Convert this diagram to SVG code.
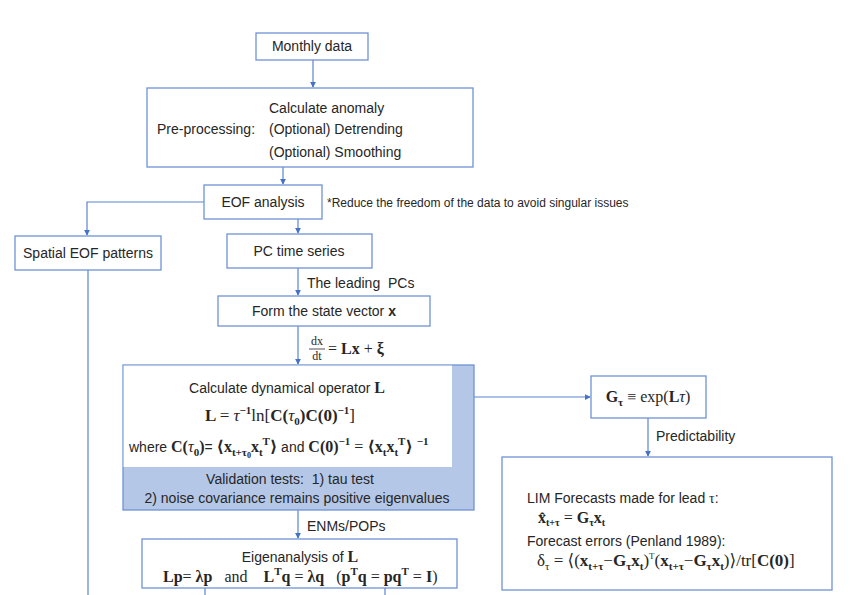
<svg xmlns="http://www.w3.org/2000/svg" width="857" height="595" viewBox="0 0 857 595">
<defs>
<marker id="ah" viewBox="0 0 8 8" refX="7" refY="4" markerWidth="6" markerHeight="6" orient="auto" markerUnits="userSpaceOnUse">
<path d="M0,0 L8,4 L0,8 z" fill="#4472c4"/>
</marker>
</defs>
<style>
.box{fill:#fff;stroke:#6f93d6;stroke-width:1.3}
.c{fill:none;stroke:#5b84cf;stroke-width:1.2}
.t{font-family:"Liberation Sans","DejaVu Sans",sans-serif;font-size:14px;fill:#262626}
.s{font-size:12px}
.m{font-family:"Liberation Serif","DejaVu Serif",serif;font-weight:bold;fill:#262626}
.mi{font-family:"Liberation Serif","DejaVu Serif",serif;font-style:italic;fill:#262626}
.mr{font-family:"Liberation Serif","DejaVu Serif",serif;fill:#262626}
</style>
<rect width="857" height="595" fill="#fff"/>
<g id="connectors">
<path class="c" d="M313,60 V87" marker-end="url(#ah)"/>
<path class="c" d="M283,167 V184" marker-end="url(#ah)"/>
<path class="c" d="M204,202 H87 V235" marker-end="url(#ah)"/>
<path class="c" d="M298,219 V233" marker-end="url(#ah)"/>
<path class="c" d="M298,268 V295" marker-end="url(#ah)"/>
<path class="c" d="M298,326 V364" marker-end="url(#ah)"/>
<path class="c" d="M88,270 V595"/>
<path class="c" d="M298,510 V538" marker-end="url(#ah)"/>
<path class="c" d="M474,397 H590" marker-end="url(#ah)"/>
<path class="c" d="M648,418 V456" marker-end="url(#ah)"/>
<path class="c" d="M205,588 V595 M385,588 V595"/>
</g>
<g id="monthly">
<rect class="box" x="256" y="33" width="112" height="27"/>
<text class="t" x="312" y="51" text-anchor="middle">Monthly data</text>
</g>
<g id="preprocessing">
<rect class="box" x="147" y="88" width="326" height="79"/>
<text class="t" x="157" y="134">Pre-processing:</text>
<text class="t" x="269" y="113">Calculate anomaly</text>
<text class="t" x="269" y="134">(Optional) Detrending</text>
<text class="t" x="269" y="157">(Optional) Smoothing</text>
</g>
<g id="eof">
<rect class="box" x="204" y="185" width="118" height="34"/>
<text class="t" x="263" y="207" text-anchor="middle">EOF analysis</text>
<text class="t s" x="327" y="207">*Reduce the freedom of the data to avoid singular issues</text>
</g>
<g id="spatial">
<rect class="box" x="15" y="236" width="146" height="34"/>
<text class="t" x="88" y="258" text-anchor="middle">Spatial EOF patterns</text>
</g>
<g id="pc">
<rect class="box" x="227" y="234" width="145" height="34"/>
<text class="t" x="299" y="256" text-anchor="middle">PC time series</text>
<text class="t" x="307" y="288">The leading&#160; PCs</text>
</g>
<g id="state">
<rect class="box" x="218" y="296" width="212" height="30"/>
<text class="t" x="324" y="316" text-anchor="middle">Form the state vector <tspan font-weight="bold">x</tspan></text>
<text class="mr" font-size="12" x="317" y="345" text-anchor="middle">dx</text>
<line x1="309" y1="349" x2="325" y2="349" stroke="#262626" stroke-width="0.8"/>
<text class="mr" font-size="12" x="317" y="360" text-anchor="middle">dt</text>
<text class="m" font-size="16" x="328" y="354"><tspan font-weight="normal">=</tspan> Lx <tspan font-weight="normal">+</tspan> ξ</text>
</g>
<g id="operator">
<rect x="123" y="365" width="351" height="145" fill="#b4c7e7" stroke="#6f93d6" stroke-width="1.3"/>
<rect x="123.6" y="365.6" width="328.4" height="101.4" fill="#fff"/>
<text class="t" x="287" y="393" text-anchor="middle">Calculate dynamical operator <tspan class="m" font-size="16">L</tspan></text>
<text class="m" font-size="17" x="280" y="421" text-anchor="middle">L <tspan font-weight="normal">=</tspan> <tspan class="mi" font-weight="normal">τ</tspan><tspan font-size="11" dy="-7">−1</tspan><tspan font-weight="normal" dy="7">ln[</tspan>C(<tspan class="mi" font-weight="normal">τ</tspan><tspan font-size="11" dy="4">0</tspan><tspan dy="-4">)C(0)</tspan><tspan font-size="11" dy="-7">−1</tspan><tspan font-weight="normal" dy="7">]</tspan></text>
<text class="t" x="129" y="452">where <tspan class="m" font-size="16">C(<tspan class="mi" font-weight="normal">τ</tspan><tspan font-size="11" dy="4">0</tspan><tspan dy="-4">)</tspan></tspan>= <tspan class="m" font-size="16">⟨x<tspan font-size="11" dy="4">t+τ</tspan><tspan font-size="8" dy="2">0</tspan><tspan dy="-6">x</tspan><tspan font-size="11" dy="4">t</tspan><tspan font-size="11" dy="-11">T</tspan><tspan dy="7">⟩</tspan></tspan> and <tspan class="m" font-size="16">C(0)<tspan font-size="11" dy="-7">−1</tspan><tspan font-weight="normal" dy="7"> = </tspan>⟨x<tspan font-size="11" dy="4">t</tspan><tspan dy="-4">x</tspan><tspan font-size="11" dy="4">t</tspan><tspan font-size="11" dy="-11">T</tspan><tspan dy="7">⟩ </tspan><tspan font-size="11" dy="-7">−1</tspan></tspan></text>
<text class="t" x="290" y="484" text-anchor="middle">Validation tests:&#160; 1) tau test</text>
<text class="t" x="297" y="503" text-anchor="middle">2) noise covariance remains positive eigenvalues</text>
<text class="t" x="307" y="531">ENMs/POPs</text>
</g>
<g id="eigen">
<rect class="box" x="142" y="539" width="315" height="49"/>
<text class="t" x="300" y="562" text-anchor="middle">Eigenanalysis of <tspan class="m" font-size="16">L</tspan></text>
<text class="m" font-size="16" x="163" y="582">Lp<tspan font-weight="normal">=</tspan> λp&#160;&#160; <tspan font-weight="normal">and</tspan>&#160;&#160;&#160; L<tspan font-size="11" dy="-7">T</tspan><tspan dy="7">q </tspan><tspan font-weight="normal">=</tspan> λq&#160;&#160; <tspan font-weight="normal">(</tspan>p<tspan font-size="11" dy="-7">T</tspan><tspan dy="7">q </tspan><tspan font-weight="normal">=</tspan> pq<tspan font-size="11" dy="-7">T</tspan><tspan dy="7"> </tspan><tspan font-weight="normal">=</tspan> I<tspan font-weight="normal">)</tspan></text>
</g>
<g id="gtau">
<rect class="box" x="591" y="376" width="115" height="42"/>
<text class="m" font-size="16" x="648" y="402" text-anchor="middle">G<tspan font-size="11" dy="4">τ</tspan><tspan font-weight="normal" dy="-4"> ≡ exp(</tspan>L<tspan class="mi" font-weight="normal">τ</tspan><tspan font-weight="normal">)</tspan></text>
<text class="t" x="656" y="441">Predictability</text>
</g>
<g id="forecast">
<rect class="box" x="502" y="457" width="330" height="133"/>
<text class="t" x="527" y="503">LIM Forecasts made for lead <tspan class="mr">τ</tspan>:</text>
<text class="m" font-size="16" x="538" y="523">x̂<tspan font-size="10" dy="3">t+τ</tspan><tspan font-weight="normal" dy="-3"> = </tspan>G<tspan font-size="10" dy="3">τ</tspan><tspan dy="-3">x</tspan><tspan font-size="10" dy="3">t</tspan></text>
<text class="t" x="527" y="546">Forecast errors (Penland 1989):</text>
<text class="m" font-size="17" x="537" y="566"><tspan font-weight="normal">δ</tspan><tspan font-size="11" font-weight="normal" dy="4">τ</tspan><tspan font-weight="normal" dy="-4"> = ⟨(</tspan>x<tspan font-size="11" dy="4">t+τ</tspan><tspan font-weight="normal" dy="-4">−</tspan>G<tspan font-size="11" dy="4">τ</tspan><tspan dy="-4">x</tspan><tspan font-size="11" dy="4">t</tspan><tspan font-weight="normal" dy="-4">)</tspan><tspan font-size="9" font-weight="normal" dy="-7">T</tspan><tspan font-weight="normal" dy="7">(</tspan>x<tspan font-size="11" dy="4">t+τ</tspan><tspan font-weight="normal" dy="-4">−</tspan>G<tspan font-size="11" dy="4">τ</tspan><tspan dy="-4">x</tspan><tspan font-size="11" dy="4">t</tspan><tspan font-weight="normal" dy="-4">)⟩/tr[</tspan>C(0)<tspan font-weight="normal">]</tspan></text>
</g>
</svg>
